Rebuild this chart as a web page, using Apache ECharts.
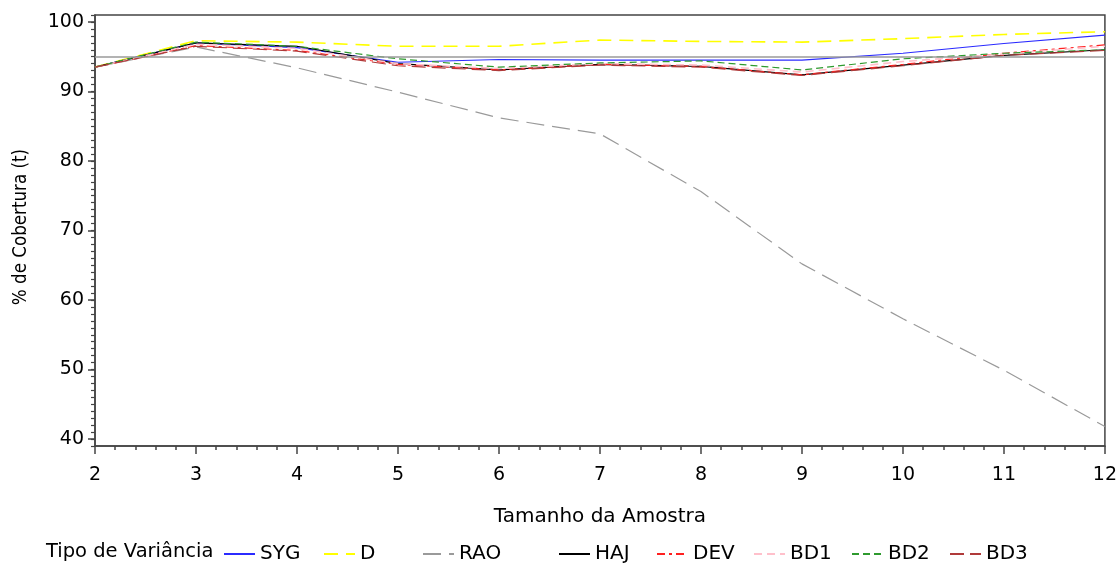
<!DOCTYPE html>
<html>
<head>
<meta charset="utf-8">
<script src="https://cdn.jsdelivr.net/npm/echarts@6/dist/echarts.min.js"></script>
<style>
html,body{margin:0;padding:0;background:#fff;}
#chart{width:1120px;height:565px;}
</style>
</head>
<body>
<div id="chart"></div>
<script>
const sampleSizes = [2,3,4,5,6,7,8,9,10,11,12];
const seriesNames = ['SYG','D','RAO','HAJ','DEV','BD1','BD2','BD3'];
const SYG = [93.5, 97.0, 96.3, 94.2, 94.6, 94.5, 94.5, 94.5, 95.5, 96.9, 98.1];
const D   = [93.5, 97.3, 97.1, 96.5, 96.5, 97.4, 97.2, 97.1, 97.6, 98.2, 98.6];
const RAO = [93.5, 96.4, 93.4, 89.9, 86.2, 83.9, 75.6, 65.2, 57.3, 49.9, 41.8];
const HAJ = [93.5, 97.0, 96.5, 94.0, 93.1, 93.9, 93.6, 92.4, 93.8, 95.2, 96.0];
const DEV = [93.5, 96.6, 95.9, 93.9, 93.1, 93.9, 93.6, 92.4, 93.9, 95.5, 96.7];
const BD1 = [93.5, 96.8, 96.2, 94.0, 93.3, 94.0, 93.8, 92.8, 94.3, 95.4, 96.5];
const BD2 = [93.5, 97.1, 96.5, 94.7, 93.5, 94.1, 94.4, 93.1, 94.7, 95.5, 96.0];
const BD3 = [93.5, 96.5, 95.8, 93.7, 93.0, 93.8, 93.5, 92.3, 93.7, 95.2, 95.9];
const yTickLabels = [40,50,60,70,80,90,100];
const xTickLabels = [2,3,4,5,6,7,8,9,10,11,12];
const refValue = 95;
const legendTitle = 'Tipo de Variância';
const xTitle = 'Tamanho da Amostra';
const yTitle = '% de Cobertura (t)';

const values = {SYG, D, RAO, HAJ, DEV, BD1, BD2, BD3};
const styles = {
  SYG: {color:'#2b2bff', type:'solid', width:1.2},
  D:   {color:'#ffff00', type:[14,8], width:1.6},
  RAO: {color:'#9a9a9a', type:[18,8], width:1.2},
  HAJ: {color:'#000000', type:'solid', width:1.2},
  DEV: {color:'#ff2020', type:[8,4,3,4], width:1.2},
  BD1: {color:'#ffc0cb', type:[8,5], width:1.6},
  BD2: {color:'#2e9a2e', type:[7,4], width:1.2},
  BD3: {color:'#b03a3a', type:[14,6], width:1.2}
};
const legendLeft = [218, 318, 417, 553, 651, 748, 846, 944];

const FONT = 'DejaVu Sans';
const chart = echarts.init(document.getElementById('chart'), null, {renderer:'canvas'});

const series = seriesNames.map((n) => ({
  name: n,
  type: 'line',
  data: sampleSizes.map((x, i) => [x, values[n][i]]),
  symbol: 'none',
  lineStyle: {color: styles[n].color, type: styles[n].type, width: styles[n].width},
  itemStyle: {color: styles[n].color},
  z: 3
}));
series[0].markLine = {
  silent: true,
  symbol: 'none',
  label: {show: false},
  lineStyle: {color: '#9a9a9a', type: 'solid', width: 1.5},
  data: [{yAxis: refValue}]
};

const legends = seriesNames.map((n, i) => ({
  data: [n],
  left: legendLeft[i],
  top: 539,
  itemWidth: 31,
  itemHeight: 10,
  itemGap: 0,
  itemStyle: {opacity: 0},
  textStyle: {fontFamily: FONT, fontSize: 20, color: '#000'},
  selectedMode: false
}));

chart.setOption({
  animation: false,
  backgroundColor: '#fff',
  grid: {left: 95, right: 14, top: 15, bottom: 119, show: true, borderColor: '#444', borderWidth: 1.5, backgroundColor: 'transparent'},
  legend: legends,
  graphic: [{
    type: 'text', left: 46, top: 542,
    style: {text: legendTitle, font: '19.5px "DejaVu Sans"', fill: '#000'}
  }, {
    type: 'text', x: 21, y: 227, rotation: Math.PI / 2, scaleX: 0.88,
    style: {text: yTitle, font: '19px "DejaVu Sans"', fill: '#000', align: 'center', verticalAlign: 'middle'}
  }],
  xAxis: {
    type: 'value', min: 2, max: 12, interval: 1,
    name: xTitle, nameLocation: 'middle', nameGap: 61,
    nameTextStyle: {fontFamily: FONT, fontSize: 20, color: '#000'},
    axisLine: {show: true, onZero: false, lineStyle: {color: '#444', width: 1.5}},
    axisTick: {show: true, length: 8, lineStyle: {color: '#444', width: 1.5}},
    minorTick: {show: true, splitNumber: 5, length: 4, lineStyle: {color: '#444', width: 1.5}},
    axisLabel: {fontFamily: FONT, fontSize: 19, color: '#000', margin: 20},
    splitLine: {show: false}
  },
  yAxis: [{
    type: 'value', min: 39, max: 101,
    axisLine: {show: true, onZero: false, lineStyle: {color: '#444', width: 1.5}},
    axisTick: {show: true, length: 7, customValues: yTickLabels, lineStyle: {color: '#444', width: 1.5}},
    axisLabel: {fontFamily: FONT, fontSize: 19, color: '#000', margin: 11, customValues: yTickLabels},
    splitLine: {show: false}
  }, {
    type: 'value', min: 39, max: 101, interval: 1, position: 'left',
    axisLine: {show: false},
    axisTick: {show: true, length: 4, lineStyle: {color: '#444', width: 1.2}},
    axisLabel: {show: false},
    splitLine: {show: false}
  }],
  series: series
});
</script>
</body>
</html>
